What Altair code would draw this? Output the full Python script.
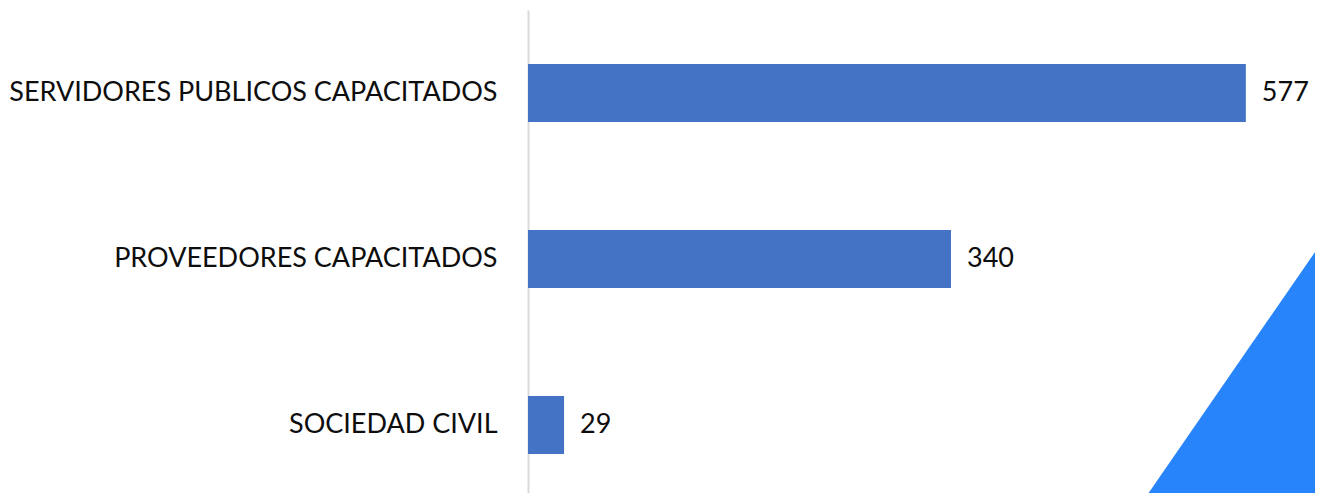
import altair as alt
import pandas as pd

categories = ["SERVIDORES PUBLICOS CAPACITADOS", "PROVEEDORES CAPACITADOS", "SOCIEDAD CIVIL"]
values = [577, 340, 29]

# decorative triangle (bottom-right corner), x in data units, y in px from plot bottom
tri_x = [494.4, 639.3]
tri_y = [-8, 253]
tri_base = [-8, -8]

df = pd.DataFrame({"cat": categories, "val": values})
tri = pd.DataFrame({"tx": tri_x, "ty": tri_y, "tb": tri_base})

W = 787
H = 483
XMAX = 632.6

xscale = alt.Scale(domain=[0, XMAX], nice=False, zero=True)

triangle = alt.Chart(tri).mark_area(color="#2884FA", clip=True).encode(
    x=alt.X("tx:Q", scale=xscale, axis=None),
    y=alt.Y("ty:Q", scale=alt.Scale(domain=[0, H], nice=False, zero=False), axis=None),
    y2="tb:Q",
)

yenc = alt.Y(
    "cat:N",
    sort=categories,
    scale=alt.Scale(paddingInner=0.65, paddingOuter=0.2798, align=0.581),
    axis=alt.Axis(
        title=None,
        ticks=False,
        labelFont="Lato",
        labelFontSize=27,
        labelColor="#0d0d0d",
        labelPadding=31,
        labelLimit=600,
        domainColor="#d9d9d9",
        domainWidth=2,
        grid=False,
    ),
)

bars = alt.Chart(df).mark_bar(color="#4472C4").encode(
    x=alt.X("val:Q", scale=xscale, axis=None),
    y=yenc,
)

labels = alt.Chart(df).mark_text(
    align="left", baseline="middle", dx=16, font="Lato", fontSize=27, color="#0d0d0d"
).encode(
    x=alt.X("val:Q", scale=xscale, axis=None),
    y=alt.Y("cat:N", sort=categories),
    text="val:Q",
)

chart = (
    alt.layer(triangle, bars + labels)
    .resolve_scale(y="independent")
    .properties(
        width=W,
        height=H,
        autosize=alt.AutoSizeParams(type="none"),
        padding={"left": 520, "top": 2, "right": 0, "bottom": 0},
        background="white",
    )
    .configure_view(stroke=None)
)

chart.save("out.html", embed_options={"renderer": "svg", "actions": False})
